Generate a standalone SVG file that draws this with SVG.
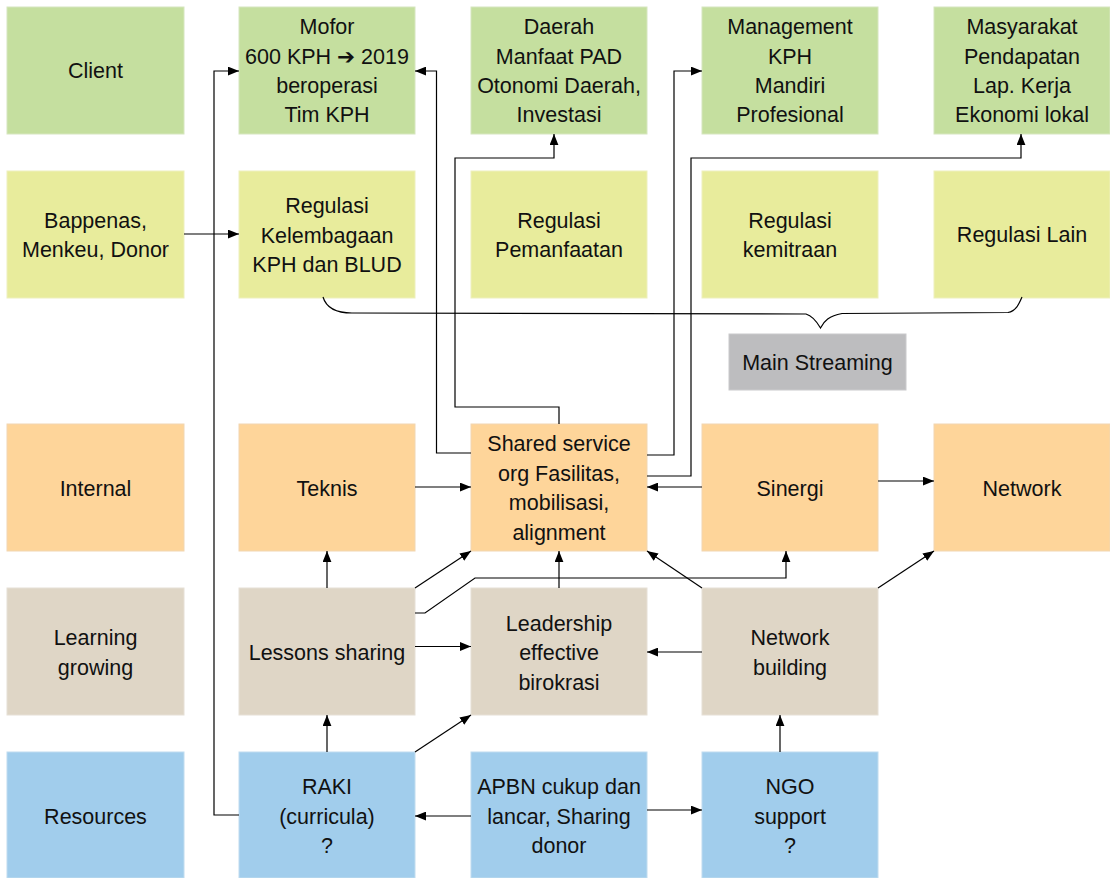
<svg xmlns="http://www.w3.org/2000/svg" width="1110" height="878" viewBox="0 0 1110 878">
<defs>
<style>
text{font-family:"Liberation Sans",Arial,"DejaVu Sans",sans-serif;font-size:21.5px;fill:#111;text-anchor:middle}
.g{fill:#c5df9f;stroke:#d6e6bf;stroke-width:1}
.y{fill:#e8ec9c;stroke:#eef0bd;stroke-width:1}
.o{fill:#fed59a;stroke:#f1d6b2;stroke-width:1}
.b{fill:#dfd6c6;stroke:#e6e0d6;stroke-width:1}
.u{fill:#a1cdec;stroke:#c0dcef;stroke-width:1}
.m{fill:#bdbdbf;stroke:#cacacc;stroke-width:1}
.c path,.c line,.c polyline{fill:none;stroke:#000;stroke-width:1.2}
.c .ar{marker-end:url(#a)}
</style>
<marker id="a" viewBox="0 0 10 8" refX="10" refY="4" markerWidth="11" markerHeight="9" markerUnits="userSpaceOnUse" orient="auto"><path d="M0,0 L10,4 L0,8z" fill="#000"/></marker>
</defs>
<rect width="1110" height="878" fill="#fff"/>

<g id="client"><rect class="g" x="7" y="7" width="177" height="127"/><text x="95.5" y="78">Client</text></g>
<g id="mofor"><rect class="g" x="239" y="7" width="176" height="127"/>
<text x="327" y="34">Mofor</text><text x="327" y="63.5">600 KPH ➔ 2019</text><text x="327" y="93">beroperasi</text><text x="327" y="122">Tim KPH</text></g>
<g id="daerah"><rect class="g" x="471" y="7" width="176" height="127"/>
<text x="559" y="34">Daerah</text><text x="559" y="63.5">Manfaat PAD</text><text x="559" y="93">Otonomi Daerah,</text><text x="559" y="122">Investasi</text></g>
<g id="management"><rect class="g" x="702" y="7" width="176" height="127"/>
<text x="790" y="34">Management</text><text x="790" y="63.5">KPH</text><text x="790" y="93">Mandiri</text><text x="790" y="122">Profesional</text></g>
<g id="masyarakat"><rect class="g" x="934" y="7" width="176" height="127"/>
<text x="1022" y="34">Masyarakat</text><text x="1022" y="63.5">Pendapatan</text><text x="1022" y="93">Lap. Kerja</text><text x="1022" y="122">Ekonomi lokal</text></g>

<g id="bappenas"><rect class="y" x="7" y="171" width="177" height="127"/>
<text x="95.5" y="227.5">Bappenas,</text><text x="95.5" y="257">Menkeu, Donor</text></g>
<g id="regulasi-kph"><rect class="y" x="239" y="171" width="176" height="127"/>
<text x="327" y="213">Regulasi</text><text x="327" y="242.5">Kelembagaan</text><text x="327" y="272">KPH dan BLUD</text></g>
<g id="regulasi-pemanfaatan"><rect class="y" x="471" y="171" width="176" height="127"/>
<text x="559" y="227.5">Regulasi</text><text x="559" y="257">Pemanfaatan</text></g>
<g id="regulasi-kemitraan"><rect class="y" x="702" y="171" width="176" height="127"/>
<text x="790" y="227.5">Regulasi</text><text x="790" y="257">kemitraan</text></g>
<g id="regulasi-lain"><rect class="y" x="934" y="171" width="176" height="127"/>
<text x="1022" y="242">Regulasi Lain</text></g>

<g id="main-streaming"><rect class="m" x="729" y="334" width="177" height="56"/><text x="817.5" y="369.5">Main Streaming</text></g>

<g id="internal"><rect class="o" x="7" y="424" width="177" height="127"/><text x="95.5" y="495.5">Internal</text></g>
<g id="teknis"><rect class="o" x="239" y="424" width="176" height="127"/><text x="327" y="495.5">Teknis</text></g>
<g id="shared"><rect class="o" x="471" y="424" width="176" height="127"/>
<text x="559" y="451">Shared service</text><text x="559" y="480.5">org Fasilitas,</text><text x="559" y="510">mobilisasi,</text><text x="559" y="539.5">alignment</text></g>
<g id="sinergi"><rect class="o" x="702" y="424" width="176" height="127"/><text x="790" y="495.5">Sinergi</text></g>
<g id="network"><rect class="o" x="934" y="424" width="176" height="127"/><text x="1022" y="495.5">Network</text></g>

<g id="learning"><rect class="b" x="7" y="588" width="177" height="127"/>
<text x="95.5" y="645">Learning</text><text x="95.5" y="674.5">growing</text></g>
<g id="lessons"><rect class="b" x="239" y="588" width="176" height="127"/><text x="327" y="660">Lessons sharing</text></g>
<g id="leadership"><rect class="b" x="471" y="588" width="176" height="127"/>
<text x="559" y="630.5">Leadership</text><text x="559" y="660">effective</text><text x="559" y="689.5">birokrasi</text></g>
<g id="network-building"><rect class="b" x="702" y="588" width="176" height="127"/>
<text x="790" y="645">Network</text><text x="790" y="674.5">building</text></g>

<g id="resources"><rect class="u" x="7" y="752" width="177" height="126"/><text x="95.5" y="823.5">Resources</text></g>
<g id="raki"><rect class="u" x="239" y="752" width="176" height="126"/>
<text x="327" y="794">RAKI</text><text x="327" y="823.5">(curricula)</text><text x="327" y="853">?</text></g>
<g id="apbn"><rect class="u" x="471" y="752" width="176" height="126"/>
<text x="559" y="794">APBN cukup dan</text><text x="559" y="823.5">lancar, Sharing</text><text x="559" y="853">donor</text></g>
<g id="ngo"><rect class="u" x="702" y="752" width="176" height="126"/>
<text x="790" y="794">NGO</text><text x="790" y="823.5">support</text><text x="790" y="853">?</text></g>

<g id="connectors" class="c">
<path d="M323,297 C326,307 334,313 352,313 L806,314 C813,316 817,322 820.5,328 C824,321 829,316 842,313.5 L1008,312.5 C1016,311 1019,304 1022,297"/>
<line class="ar" x1="184" y1="234" x2="239" y2="234"/>
<polyline class="ar" points="239,815 214,815 214,71 239,71"/>
<polyline class="ar" points="471,453 436.5,453 436.5,71 415,71"/>
<polyline class="ar" points="559,424 559,407 455,407 455,158 554,158 554,134"/>
<polyline class="ar" points="647,455 674,455 674,71 702,71"/>
<polyline class="ar" points="647,476 691,476 691,158 1021,158 1021,134"/>
<line class="ar" x1="415" y1="487" x2="471" y2="487"/>
<line class="ar" x1="702" y1="487" x2="647" y2="487"/>
<line class="ar" x1="878" y1="481" x2="934" y2="481"/>
<line class="ar" x1="327" y1="588" x2="327" y2="551"/>
<line class="ar" x1="415" y1="588" x2="471" y2="551"/>
<polyline class="ar" points="415,613 425,613 475,578 786,578 786,551"/>
<line class="ar" x1="415" y1="646.5" x2="471" y2="646.5"/>
<line class="ar" x1="559" y1="588" x2="559" y2="551"/>
<line class="ar" x1="702" y1="588" x2="647" y2="551"/>
<line class="ar" x1="878" y1="588" x2="934" y2="551"/>
<line class="ar" x1="702" y1="652" x2="647" y2="652"/>
<line class="ar" x1="327" y1="752" x2="327" y2="715"/>
<line class="ar" x1="415" y1="752" x2="471" y2="715"/>
<line class="ar" x1="471" y1="816" x2="415" y2="816"/>
<line class="ar" x1="647" y1="810" x2="702" y2="810"/>
<line class="ar" x1="780" y1="752" x2="780" y2="715"/>
</g>
</svg>
